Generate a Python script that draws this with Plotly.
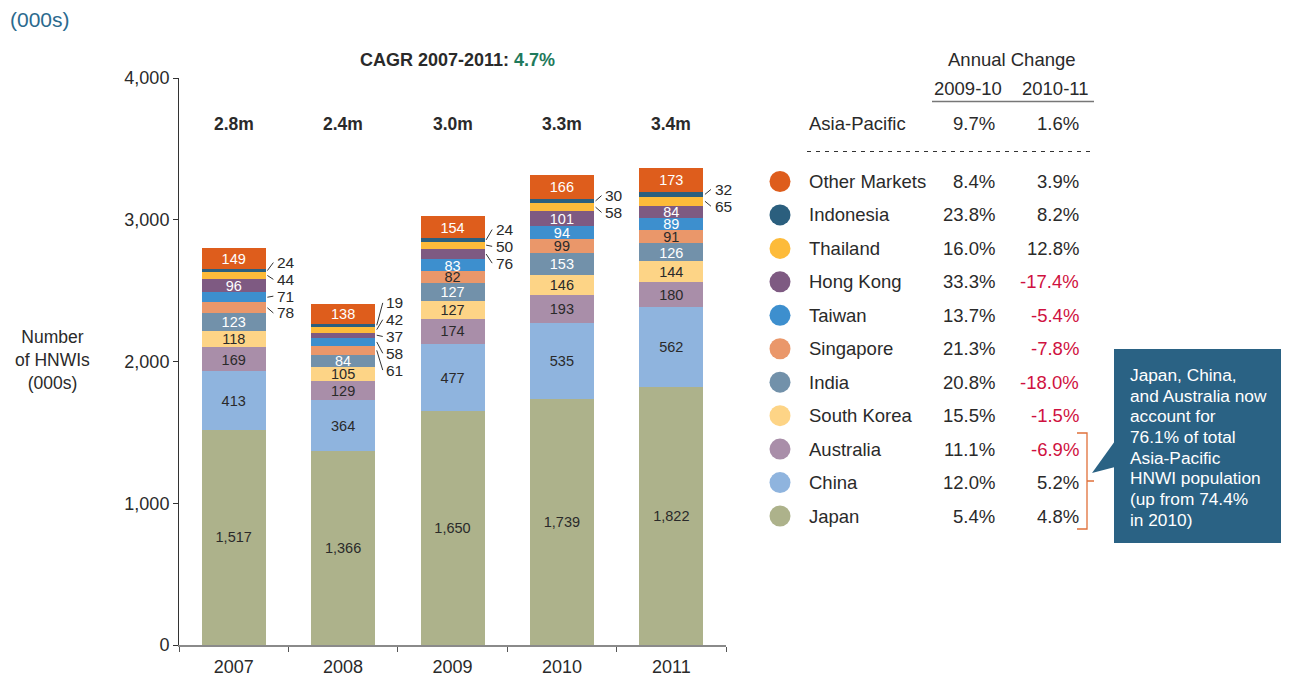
import plotly.graph_objects as go

years = ["2007", "2008", "2009", "2010", "2011"]
# series bottom -> top
series = ["Japan", "China", "Australia", "South Korea", "India", "Singapore",
          "Taiwan", "Hong Kong", "Thailand", "Indonesia", "Other Markets"]
japan = [1517, 1366, 1650, 1739, 1822]
china = [413, 364, 477, 535, 562]
australia = [169, 129, 174, 193, 180]
south_korea = [118, 105, 127, 146, 144]
india = [123, 84, 127, 153, 126]
singapore = [78, 61, 82, 99, 91]
taiwan = [71, 58, 83, 94, 89]
hong_kong = [96, 37, 76, 101, 84]
thailand = [44, 42, 50, 58, 65]
indonesia = [24, 19, 24, 30, 32]
other_markets = [149, 138, 154, 166, 173]
values = [japan, china, australia, south_korea, india, singapore, taiwan,
          hong_kong, thailand, indonesia, other_markets]

colors = ["#adb28b", "#8fb4de", "#a98ea9", "#fdd486", "#7291aa", "#ea976a",
          "#3d8fce", "#7e5a82", "#fdbb3a", "#2b5f7e", "#de5d1c"]
text_colors = ["#2a2a2a", "#2a2a2a", "#2a2a2a", "#2a2a2a", "#ffffff", "#2a2a2a",
               "#ffffff", "#ffffff", "#2a2a2a", "#ffffff", "#ffffff"]

# annual change (same order as series)
chg_0910 = [5.4, 12.0, 11.1, 15.5, 20.8, 21.3, 13.7, 33.3, 16.0, 23.8, 8.4]
chg_1011 = [4.8, 5.2, -6.9, -1.5, -18.0, -7.8, -5.4, -17.4, 12.8, 8.2, 3.9]
apac_chg = [9.7, 1.6]

FONT = "Liberation Sans"
DARK = "#2a2a2a"
RED = "#cf1140"
INSIDE_MIN = 80

# ---- layout geometry (screen pixels; page has an 8px body margin) ----
OFF = 8
W, H = 1289 - OFF, 680 - OFF
L, R_PIX, T, B_PIX = 179, 726, 78, 645   # plot area in screen pixels


def px(x):
    return (x - L) / (R_PIX - L)


def py(y):
    return (B_PIX - y) / (B_PIX - T)


fig = go.Figure()
for name, vals, col, tcol in zip(series, values, colors, text_colors):
    fig.add_trace(go.Bar(
        x=years, y=vals, name=name, marker=dict(color=col, line=dict(width=0)),
        text=[f"{v:,}" if v >= INSIDE_MIN else "" for v in vals],
        textposition="inside", insidetextanchor="middle", textangle=0,
        textfont=dict(family=FONT, size=15 if name != "Japan" else 14.5, color=tcol),
        showlegend=False, hoverinfo="skip", cliponaxis=False,
    ))

annotations = []
shapes = []

# outside labels with leader lines
units_per_px = 4000 / (B_PIX - T)
GAP = 16.8 * units_per_px
BW = 0.585
for i, yr in enumerate(years):
    cum = 0
    items = []
    for s, vals in enumerate(values):
        v = vals[i]
        if v < INSIDE_MIN:
            items.append([cum + v / 2, v])
        cum += v
    items.sort(key=lambda t: -t[0])  # top -> bottom
    centers = [it[0] for it in items]
    pos = centers[:]
    groups = [[k] for k in range(len(pos))]
    changed = True
    while changed:
        changed = False
        for g in range(len(groups) - 1):
            a, b = groups[g], groups[g + 1]
            if pos[a[-1]] - pos[b[0]] < GAP - 1e-6:
                merged = a + b
                m = sum(centers[k] for k in merged) / len(merged)
                n = len(merged)
                for j, k in enumerate(merged):
                    pos[k] = m + ((n - 1) / 2 - j) * GAP
                groups = groups[:g] + [merged] + groups[g + 2:]
                changed = True
                break
    edge = i + BW / 2
    for (c, v), p in zip(items, pos):
        shapes.append(dict(type="line", xref="x", yref="y",
                           x0=edge + 0.015, y0=c, x1=edge + 0.07, y1=p,
                           line=dict(color="#333333", width=1)))
        annotations.append(dict(x=edge + 0.085, y=p, xref="x", yref="y",
                                text=str(v), showarrow=False, xanchor="left",
                                yanchor="middle",
                                font=dict(family=FONT, size=15.5, color=DARK)))

# totals
totals = [sum(v[i] for v in values) for i in range(len(years))]
for i, t in enumerate(totals):
    annotations.append(dict(x=i, y=py(124), xref="x", yref="paper",
                            text=f"<b>{t / 1000:.1f}m</b>", showarrow=False,
                            xanchor="center", yanchor="middle",
                            font=dict(family=FONT, size=17.5, color=DARK)))

cagr = (totals[-1] / totals[0]) ** (1 / (len(years) - 1)) - 1
annotations.append(dict(x=px(457), y=py(60), xref="paper", yref="paper",
                        text=f"<b>CAGR {years[0]}-{years[-1]}: <span style='color:#1f7a5c'>{cagr * 100:.1f}%</span></b>",
                        showarrow=False, xanchor="center", yanchor="middle",
                        font=dict(family=FONT, size=18, color=DARK)))

annotations.append(dict(x=px(8), y=py(20), xref="paper", yref="paper",
                        text="(000s)", showarrow=False, xanchor="left", yanchor="middle",
                        font=dict(family=FONT, size=21, color="#2b6a8e")))
annotations.append(dict(x=px(52), y=py(360), xref="paper", yref="paper",
                        text="Number<br>of HNWIs<br>(000s)", showarrow=False,
                        xanchor="center", yanchor="middle", align="center",
                        font=dict(family=FONT, size=17.5, color=DARK)))

# ---- table / legend ----
TF = 18.5
NAME_X, C1_X, C2_X = 807, 997, 1081
annotations.append(dict(x=px(1012), y=py(60), xref="paper", yref="paper",
                        text="Annual Change", showarrow=False,
                        xanchor="center", yanchor="middle",
                        font=dict(family=FONT, size=TF, color=DARK)))
annotations.append(dict(x=px(968), y=py(88), xref="paper", yref="paper",
                        text="2009-10", showarrow=False,
                        xanchor="center", yanchor="middle",
                        font=dict(family=FONT, size=TF, color=DARK)))
annotations.append(dict(x=px(1055), y=py(88), xref="paper", yref="paper",
                        text="2010-11", showarrow=False,
                        xanchor="center", yanchor="middle",
                        font=dict(family=FONT, size=TF, color=DARK)))
shapes.append(dict(type="line", xref="paper", yref="paper",
                   x0=px(932), x1=px(1094), y0=py(101.5), y1=py(101.5),
                   line=dict(color="#777777", width=1.5)))


def fmt(v):
    return f"{v:.1f}%" if v >= 0 else f"<span style='color:{RED}'>{v:.1f}%</span>"


row_y = 123.5
annotations.append(dict(x=px(NAME_X), y=py(row_y), xref="paper", yref="paper",
                        text="Asia-Pacific", showarrow=False, xanchor="left",
                        yanchor="middle",
                        font=dict(family=FONT, size=TF, color=DARK)))
for cx, v in zip([C1_X, C2_X], apac_chg):
    annotations.append(dict(x=px(cx), y=py(row_y), xref="paper", yref="paper",
                            text=fmt(v), showarrow=False, xanchor="right",
                            yanchor="middle",
                            font=dict(family=FONT, size=TF, color=DARK)))
shapes.append(dict(type="line", xref="paper", yref="paper",
                   x0=px(807), x1=px(1090), y0=py(151.5), y1=py(151.5),
                   line=dict(color="#333333", width=1, dash="4px,5px")))

n = len(series)
for r in range(n):
    s = n - 1 - r  # top row is last series
    yy = 181.5 + r * 33.45
    shapes.append(dict(type="circle", xref="paper", yref="paper",
                       xsizemode="pixel", ysizemode="pixel",
                       xanchor=px(780), yanchor=py(yy),
                       x0=-10.5, x1=10.5, y0=-10.5, y1=10.5,
                       fillcolor=colors[s], line=dict(width=0)))
    annotations.append(dict(x=px(NAME_X), y=py(yy), xref="paper", yref="paper",
                            text=series[s], showarrow=False, xanchor="left",
                            yanchor="middle",
                            font=dict(family=FONT, size=TF, color=DARK)))
    for cx, v in zip([C1_X, C2_X], [chg_0910[s], chg_1011[s]]):
        annotations.append(dict(x=px(cx), y=py(yy), xref="paper", yref="paper",
                                text=fmt(v), showarrow=False, xanchor="right",
                                yanchor="middle",
                                font=dict(family=FONT, size=TF, color=DARK)))

# bracket
BR = "#e0703a"
shapes.append(dict(type="path", xref="paper", yref="paper",
                   path=(f"M {px(1077)} {py(433)} L {px(1087)} {py(433)} L {px(1087)} {py(529)} "
                         f"L {px(1077)} {py(529)} M {px(1087)} {py(481)} L {px(1094)} {py(481)}"),
                   line=dict(color=BR, width=1.3)))

# callout box
BOX = "#2a6284"
shapes.append(dict(type="rect", xref="paper", yref="paper",
                   x0=px(1114), x1=px(1284), y0=py(543), y1=py(349),
                   fillcolor=BOX, line=dict(width=0)))
shapes.append(dict(type="path", xref="paper", yref="paper",
                   path=f"M {px(1115)} {py(441)} L {px(1092)} {py(473)} L {px(1115)} {py(467)} Z",
                   fillcolor=BOX, line=dict(width=0)))
share11 = (japan[-1] + china[-1] + australia[-1]) / totals[-1] * 100
share10 = (japan[-2] + china[-2] + australia[-2]) / totals[-2] * 100
callout_lines = ["Japan, China,", "and Australia now", "account for",
                 f"{share11:.1f}% of total", "Asia-Pacific", "HNWI population",
                 f"(up from {share10:.1f}%", "in 2010)"]
for k, line in enumerate(callout_lines):
    annotations.append(dict(x=px(1128), y=py(375 + k * 20.7), xref="paper", yref="paper",
                            text=line, showarrow=False, xanchor="left", yanchor="middle",
                            font=dict(family=FONT, size=17.3, color="#ffffff")))

fig.update_layout(
    width=W, height=H, barmode="stack", bargap=1 - BW,
    plot_bgcolor="white", paper_bgcolor="white",
    margin=dict(l=L - OFF, r=W - (R_PIX - OFF), t=T - OFF,
                b=H - (B_PIX - OFF), pad=0, autoexpand=False),
    font=dict(family=FONT, color=DARK),
    uniformtext=dict(mode="show", minsize=14),
    xaxis=dict(type="category", showgrid=False, showline=True, linecolor="#8a8a8a",
               linewidth=1.5, ticks="outside", tickson="boundaries", ticklen=5,
               tickcolor="#555555", tickfont=dict(family=FONT, size=18, color=DARK),
               ticklabelstandoff=5, automargin=False, range=[-0.5, 4.5]),
    yaxis=dict(range=[0, 4000], showgrid=False, showline=True, linecolor="#333333",
               linewidth=1, ticks="outside", ticklen=5, tickcolor="#333333",
               tickvals=[0, 1000, 2000, 3000, 4000], tickformat=",", automargin=False,
               tickfont=dict(family=FONT, size=18, color=DARK), zeroline=False),
    annotations=annotations, shapes=shapes,
)

fig.write_html("out.html")
